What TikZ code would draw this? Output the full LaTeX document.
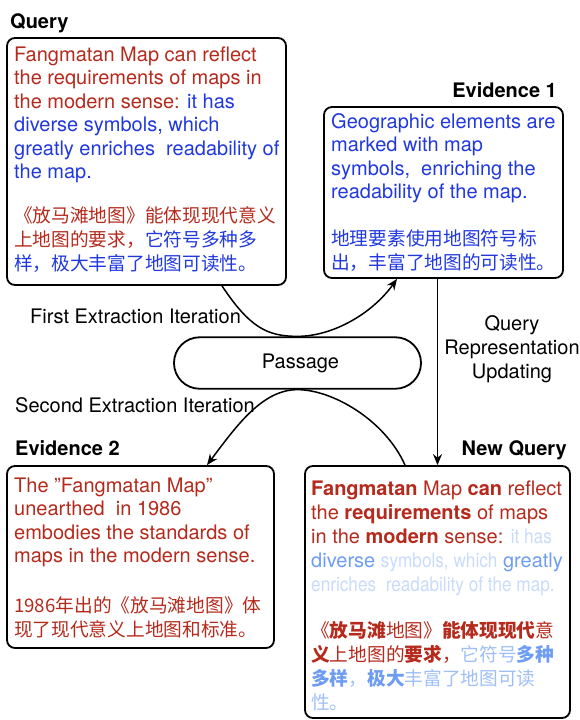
\documentclass[tikz,border=0pt]{standalone}
\usepackage{fontspec}
\usepackage{graphicx}
\setmainfont{TeX Gyre Heros}
\newfontfamily\cjk{Noto Sans CJK SC}
\usetikzlibrary{arrows.meta}
\definecolor{qred}{HTML}{B52A1C}
\definecolor{qblue}{HTML}{2038DE}
\definecolor{mblue}{HTML}{6E9CF2}
\definecolor{lblue}{HTML}{C9DBFB}
\definecolor{cblue}{HTML}{9FBFF6}
\newcommand\thintext[1]{\scalebox{0.86}[1]{#1}}
\begin{document}
\begin{tikzpicture}[x=1pt,y=-1pt,
  box/.style={draw,line width=1.8pt,rounded corners=8pt,inner sep=0pt},
  lat/.style={anchor=base west,inner sep=0pt,align=left,font=\fontsize{20}{23.5}\selectfont},
  zh/.style={anchor=base west,inner sep=0pt,align=left,font=\cjk\fontsize{18.7}{24}\selectfont},
  lbl/.style={inner sep=0pt,font=\fontsize{20}{24}\selectfont\bfseries},
  plain/.style={inner sep=0pt,font=\fontsize{20}{24}\selectfont},
  conn/.style={line width=1.5pt},
  tip/.style={-{Stealth[length=11pt,width=9pt]}}
]
\useasboundingbox (0,0) rectangle (580,720);

% labels
\node[lbl,anchor=base west] (lq) at (10,28) {Query};
\node[lbl,anchor=base east] (le1) at (557,97) {Evidence 1};
\node[lbl,anchor=base west] (le2) at (15,455) {Evidence 2};
\node[lbl,anchor=base east] (lnq) at (567,455) {New Query};

% boxes
\node[box,minimum width=279pt,minimum height=247pt] (query) at (146.5,161.5) {};
\node[box,minimum width=239pt,minimum height=171pt] (ev1) at (443.5,192.5) {};
\node[box,minimum width=267pt,minimum height=182pt] (ev2) at (140.5,557) {};
\node[box,minimum width=265pt,minimum height=252pt] (nq) at (437.5,592) {};
\node[draw,line width=1.8pt,rounded corners=25.7pt,minimum width=247pt,minimum height=51.5pt,inner sep=0pt,font=\fontsize{20}{24}\selectfont] (passage) at (297.5,363) {\hspace{6pt}Passage};

% query text (anchor = baseline of last line)
\node[lat] (qt) at (14,178.5) {\color{qred}Fangmatan Map can reflect\\
\color{qred}the requirements of maps in\\
\color{qred}the modern sense: \color{qblue}it has\\
\color{qblue}diverse symbols, which\\
\color{qblue}greatly enriches\ \ readability of\\
\color{qblue}the map.};
\node[zh] (qz) at (14,270) {\color{qred}《放马滩地图》能体现现代意义\\
\color{qred}上地图的要求，\color{qblue}它符号多种多\\
\color{qblue}样，极大丰富了地图可读性。};

% evidence 1 text
\node[lat,text=qblue] (e1t) at (331,198.5) {Geographic elements are\\
marked with map\\
symbols,\ \ enriching the\\
readability of the map.};
\node[zh,text=qblue] (e1z) at (331,269) {地理要素使用地图符号标\\
出，丰富了地图的可读性。};

% evidence 2 text
\node[lat,text=qred] (e2t) at (14,562.5) {The \symbol{34}Fangmatan Map\symbol{34}\\
unearthed\ \ in 1986\\
embodies the standards of\\
maps in the modern sense.};
\node[zh,text=qred] (e2z) at (14,636) {1986年出的《放马滩地图》体\\
现了现代意义上地图和标准。};

% new query text
\node[lat,font=\fontsize{20}{24}\selectfont] (nqt) at (311,591) {\color{qred}\textbf{Fangmatan} Map \textbf{can} reflect\\
\color{qred}the \textbf{requirements} of maps\\
\color{qred}in the \textbf{modern} sense: \color{lblue}\thintext{it has}\\
\color{mblue}diverse \color{lblue}\thintext{symbols, which} \color{mblue}greatly\\
\color{lblue}\thintext{enriches\ \ readability of the map.}};
\node[zh] (nqz) at (311,709) {\color{qred}《\textbf{放马滩}地图》\textbf{能体现现代}意\\
\color{qred}\textbf{义}上地图的\textbf{要求}，\color{cblue}它符号\color{mblue}\textbf{多种}\\
\color{mblue}\textbf{多样}\color{cblue}，\color{mblue}\textbf{极大}\color{cblue}丰富了地图可读\\
\color{cblue}性。};

% edge labels
\node[plain,anchor=base west] (fei) at (30,323) {First Extraction Iteration};
\node[plain,anchor=base west] (sei) at (15,412) {Second Extraction Iteration};
\node[plain,anchor=base,align=center] (qru) at (512,378) {Query\\Representation\\Updating};

% connectors
\draw[conn,tip] ([xshift=75.5pt]query.south) .. controls +(28,42) and +(-30,0) .. (passage.north)
  .. controls +(35,0) and +(-25,35) .. ([xshift=-46.5pt]ev1.south);
\draw[conn,tip] ([xshift=-32.5pt]nq.north) .. controls +(-20,-45) and +(35,0) .. (passage.south)
  .. controls +(-35,0) and +(30,-40) .. ([xshift=66.5pt]ev2.north);
\draw[conn,tip] (ev1.south -| nq.north) -- (nq.north);
\end{tikzpicture}
\end{document}
